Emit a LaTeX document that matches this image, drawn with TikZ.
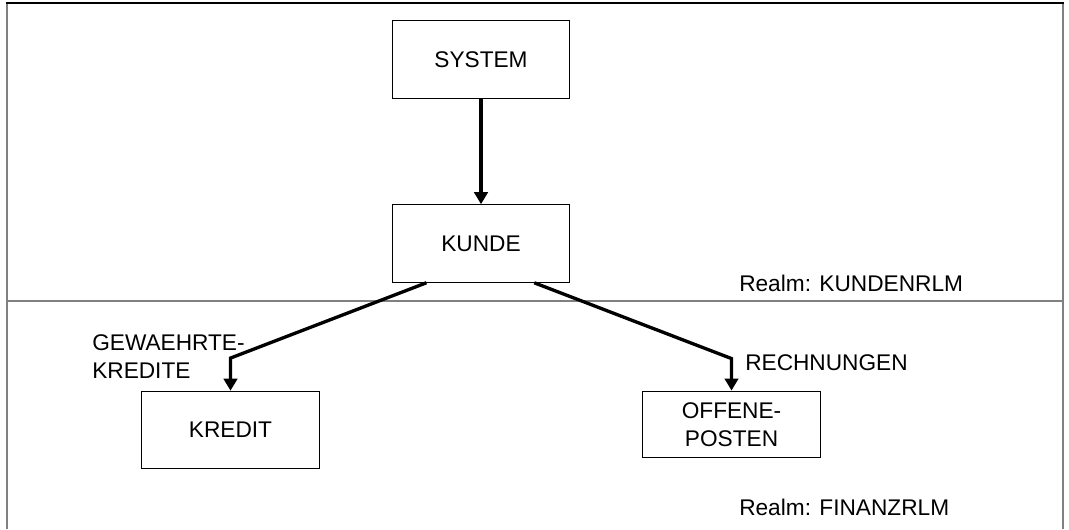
\documentclass[tikz,border=0pt]{standalone}
\usepackage{fontspec}
\setmainfont{Liberation Sans}
\usetikzlibrary{positioning,arrows.meta}

\begin{document}
\begin{tikzpicture}[x=0.75pt, y=-0.75pt,
  every node/.style = {font=\fontsize{17}{21}\selectfont},
  entity/.style = {draw=black, line width=0.9pt, minimum width=133pt, minimum height=58pt, align=center},
  conn/.style = {line width=2.5pt, -{Triangle[length=9pt, width=10pt]}},
  frame/.style = {draw=gray, line width=1.6pt},
  lbl/.style = {anchor=west, align=left, inner sep=0pt}]
\useasboundingbox (0,0) rectangle (1069,529);
% realm frames
\draw[frame] (7,529) -- (7,3);
\draw[frame] (1063,529) -- (1063,3);
\draw[black, line width=1.1pt] (6,3) -- (1064,3);
\draw[frame, line width=1.3pt] (7,301) -- (1063,301);
% entities
\node[entity] (system) at (481,59.5) {SYSTEM};
\node[entity] (kunde) at (481,243.5) {KUNDE};
\node[entity] (kredit) at (230.5,430) {KREDIT};
\node[entity, minimum height=50pt] (offene) at (731.5,424.5) {OFFENE-\\POSTEN};
% sets
\draw[conn] (system) -- (kunde);
\draw[conn] ([xshift=26pt]kunde.south west) -- ([yshift=24.5pt]kredit.north) -- (kredit.north);
\draw[conn] ([xshift=-27pt]kunde.south east) -- ([yshift=24pt]offene.north) -- (offene.north);
\node[lbl] (gew) at (92,357) {GEWAEHRTE-\\KREDITE};
\node[lbl] (rech) at (745,363) {RECHNUNGEN};
\node[lbl] (realm1) at (739,283) {Realm: KUNDENRLM};
\node[lbl] (realm2) at (739,507) {Realm: FINANZRLM};
\end{tikzpicture}
\end{document}
